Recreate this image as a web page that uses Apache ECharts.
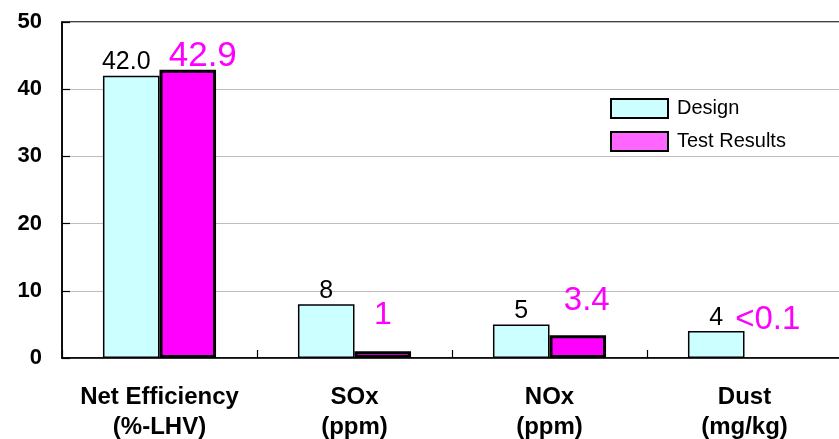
<!DOCTYPE html>
<html>
<head>
<meta charset="utf-8">
<script src="https://cdn.jsdelivr.net/npm/echarts@6/dist/echarts.min.js"></script>
<style>
  html, body { margin: 0; padding: 0; background: #ffffff; }
  #chart { width: 839px; height: 439px; }
</style>
</head>
<body>
<div id="chart"></div>
<script>
// Plant performance: design values against measured test results
const categories = ['Net Efficiency\n(%-LHV)', 'SOx\n(ppm)', 'NOx\n(ppm)', 'Dust\n(mg/kg)'];
const seriesNames = ['Design', 'Test Results'];
const designValues = [42.0, 8, 5, 4];
const designLabels = ['42.0', '8', '5', '4'];
const testValues = [42.9, 1, 3.4, 0];
const testLabels = ['42.9', '1', '3.4', '<0.1'];
const yTicks = [0, 10, 20, 30, 40, 50];

const FONT = 'Liberation Sans, Arial, sans-serif';

// hand-placed label nudges for the measured values
const testLabelNudge = [[15, 4], [0, -20], [9, -18], [-5, -22]];
const testLabelSize = [35, 32, 33, 33];

const designData = designValues.map((v, i) => ({
  value: v,
  label: { formatter: designLabels[i], offset: i === 0 ? [-5, 0] : [0, 0] }
}));

const testData = testValues.map((v, i) => ({
  value: v,
  itemStyle: v === 0 ? { borderWidth: 0 } : undefined,
  label: {
    formatter: testLabels[i],
    offset: testLabelNudge[i],
    fontSize: testLabelSize[i]
  }
}));

const chart = echarts.init(document.getElementById('chart'), null, { renderer: 'canvas' });

chart.setOption({
  animation: false,
  backgroundColor: '#ffffff',
  textStyle: { fontFamily: FONT },
  grid: {
    left: 62, right: -3, top: 22, bottom: 81,
    outerBoundsMode: 'none',
    containLabel: false,
    show: true, borderColor: '#000000', borderWidth: 1.5, backgroundColor: 'transparent'
  },
  legend: {
    orient: 'vertical',
    left: 610, top: 98,
    padding: 0,
    itemWidth: 57, itemHeight: 19, itemGap: 12,
    icon: 'rect',
    textStyle: { fontFamily: FONT, fontSize: 20, color: '#000000', padding: [0, 0, 0, 4] },
    data: [
      { name: seriesNames[0], itemStyle: { color: '#CCFFFF', borderColor: '#000000', borderWidth: 2 } },
      { name: seriesNames[1], itemStyle: { color: '#FF66FF', borderColor: '#000000', borderWidth: 2 } }
    ]
  },
  xAxis: {
    type: 'category',
    data: categories,
    axisLine: { show: true, lineStyle: { color: '#000000', width: 1.5 } },
    axisTick: { show: true, inside: true, length: 8, lineStyle: { color: '#000000', width: 1.2 } },
    axisLabel: {
      color: '#000000', fontFamily: FONT, fontWeight: 'bold', fontSize: 24,
      lineHeight: 30, margin: 24, interval: 0
    }
  },
  yAxis: {
    type: 'value',
    min: yTicks[0], max: yTicks[yTicks.length - 1], interval: 10,
    axisLine: { show: true, lineStyle: { color: '#000000', width: 1.5 } },
    axisTick: { show: true, inside: true, length: 8, lineStyle: { color: '#000000', width: 1.2 } },
    splitLine: { show: true, lineStyle: { color: '#BDBDBD', width: 1.2 } },
    axisLabel: {
      color: '#000000', fontFamily: FONT, fontWeight: 'bold', fontSize: 22, margin: 20
    }
  },
  series: [
    {
      name: seriesNames[0],
      type: 'bar',
      data: designData,
      barGap: '0%',
      barCategoryGap: '42%',
      itemStyle: { color: '#CCFFFF', borderColor: '#000000', borderWidth: 1.5 },
      label: {
        show: true, position: 'top', distance: 1,
        color: '#000000', fontFamily: FONT, fontSize: 25
      }
    },
    {
      name: seriesNames[1],
      type: 'bar',
      data: testData,
      itemStyle: { color: '#FF00FF', borderColor: '#000000', borderWidth: 3 },
      label: {
        show: true, position: 'top', distance: 0,
        color: '#FF00FF', fontFamily: FONT, fontSize: 33
      }
    }
  ]
});
</script>
</body>
</html>
